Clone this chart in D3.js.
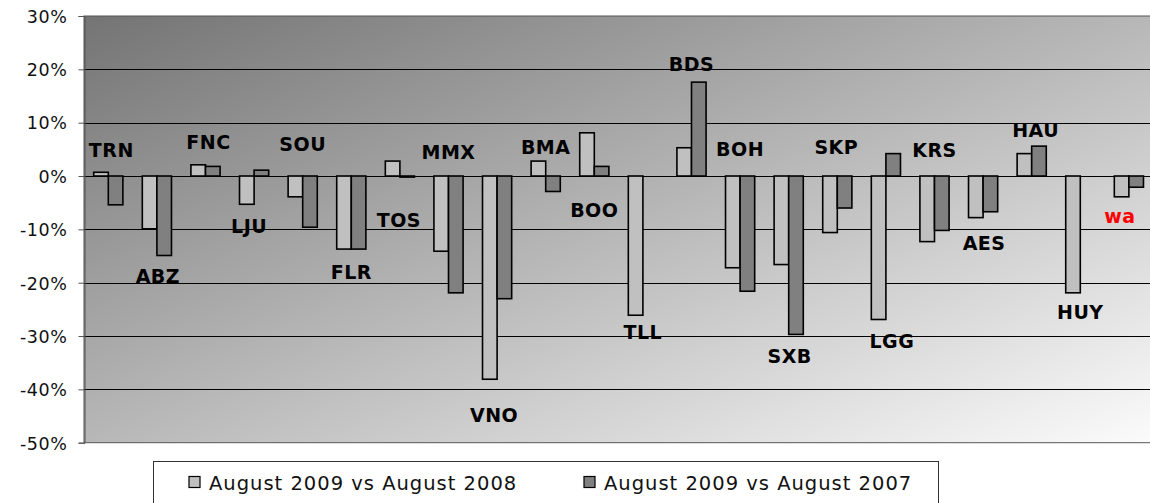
<!DOCTYPE html>
<html>
<head>
<meta charset="utf-8">
<script src="https://cdn.jsdelivr.net/npm/d3@7"></script>
<style>
  body { margin: 0; background: #fff; }
  text { font-family: "DejaVu Sans", Verdana, sans-serif; }
</style>
</head>
<body>
<div id="chart"></div>
<script>
// data (percent)
let categories = ["TRN", "ABZ", "FNC", "LJU", "SOU", "FLR", "TOS", "MMX", "VNO", "BMA", "BOO",
                  "TLL", "BDS", "BOH", "SXB", "SKP", "LGG", "KRS", "AES", "HAU", "HUY", "wa"];
let vs2008 = [0.7, -9.9, 2.1, -5.3, -3.9, -13.7, 2.8, -14.1, -38.1, 2.8, 8.1,
              -26.1, 5.3, -17.2, -16.6, -10.6, -26.9, -12.3, -7.8, 4.2, -21.9, -3.9];
let vs2007 = [-5.4, -14.9, 1.8, 1.1, -9.6, -13.7, -0.2, -21.9, -23.0, -2.9, 1.8,
              null, 17.6, -21.6, -29.7, -6.0, 4.2, -10.2, -6.7, 5.6, null, -2.1];
let seriesNames = ["August 2009 vs August 2008", "August 2009 vs August 2007"];
let yTicks = [30, 20, 10, 0, -10, -20, -30, -40, -50];

// where each category label sits: [x offset in band, value at text baseline]
let labelPos = [
  [3, 3.5], [1, -20.1], [3, 5.1], [-5, -10.6], [0, 4.6], [0, -19.3], [-1, -9.6],
  [0, 3.2], [-3, -46.2], [0, 4.1], [0, -7.7], [0, -30.5], [0, 19.7], [0, 3.8],
  [1, -35], [-1, 4.1], [6, -32.3], [0, 3.5], [1, -13.9], [4, 7.3], [0, -26.9], [-9, -8.8]
];

let W = 1150, H = 503;
let svg = d3.select("#chart").append("svg")
      .attr("width", W)
      .attr("height", H);

let plotLeft = 84, plotTop = 16, plotBottom = 442.7, bandW = 48.6;
let plotRight = plotLeft + categories.length * bandW;

let x = d3.scaleBand()
    .domain(categories)
    .range([plotLeft, plotRight])
    .paddingInner(0.4)
    .paddingOuter(0.2);
let xs = d3.scaleBand()
    .domain([0, 1])
    .range([0, x.bandwidth()]);
let y = d3.scaleLinear()
    .domain([-50, 30])
    .range([plotBottom, plotTop]);

let defs = svg.append("defs");
let grad = defs.append("linearGradient")
    .attr("id", "bg")
    .attr("x1", "0").attr("y1", "0")
    .attr("x2", "1").attr("y2", "1");
grad.append("stop").attr("offset", "0%").attr("stop-color", "#747474");
grad.append("stop").attr("offset", "100%").attr("stop-color", "#fbfbfb");

svg.append("rect")
    .attr("x", plotLeft).attr("y", plotTop)
    .attr("width", plotRight - plotLeft).attr("height", plotBottom - plotTop)
    .attr("fill", "url(#bg)")
    .attr("stroke", "#555")
    .attr("stroke-width", 1);

// gridlines
svg.append("g").selectAll("line")
    .data(yTicks.slice(1, -1))
    .enter().append("line")
    .attr("x1", plotLeft).attr("x2", plotRight)
    .attr("y1", d => Math.round(y(d)) + 0.5)
    .attr("y2", d => Math.round(y(d)) + 0.5)
    .attr("stroke", "#000")
    .attr("stroke-width", 1);

// y axis
let yAxis = svg.append("g")
    .attr("transform", "translate(" + (plotLeft + 0.5) + ",0)")
    .call(d3.axisLeft(y).tickValues(yTicks).tickSize(6).tickFormat(d => d + "%"));
yAxis.select(".domain").attr("stroke", "#555");
yAxis.selectAll(".tick line").attr("stroke", "#555");
yAxis.selectAll(".tick text")
    .attr("x", -17)
    .attr("dy", "0.36em")
    .attr("font-size", "17.5px")
    .attr("letter-spacing", "0.6px")
    .attr("font-family", "DejaVu Sans, Verdana, sans-serif")
    .attr("fill", "#111");

// bars
let colors = ["#c0c0c0", "#808080"];
let series = [vs2008, vs2007];
series.forEach(function (vals, s) {
  svg.append("g").selectAll("rect")
    .data(categories.map((c, i) => ({c: c, v: vals[i]})).filter(d => d.v !== null))
    .enter().append("rect")
    .attr("x", d => x(d.c) + xs(s))
    .attr("width", xs.bandwidth())
    .attr("y", d => y(Math.max(0, d.v)))
    .attr("height", d => Math.abs(y(d.v) - y(0)))
    .attr("fill", colors[s])
    .attr("stroke", "#000")
    .attr("stroke-width", 1.6);
});

// category labels
svg.append("g").selectAll("text")
    .data(categories)
    .enter().append("text")
    .attr("x", (d, i) => x(d) + x.bandwidth() / 2 + labelPos[i][0])
    .attr("y", (d, i) => y(labelPos[i][1]))
    .attr("text-anchor", "middle")
    .attr("font-size", "19px")
    .attr("letter-spacing", "0.5px")
    .attr("font-weight", "bold")
    .attr("fill", d => d === "wa" ? "#ff0000" : "#000")
    .text(d => d);

// legend
let legend = svg.append("g");
legend.append("rect")
    .attr("x", 153.5).attr("y", 461.5)
    .attr("width", 785).attr("height", 50)
    .attr("fill", "#fff")
    .attr("stroke", "#333");
let legendX = [189, 584];
seriesNames.forEach(function (name, s) {
  legend.append("rect")
    .attr("x", legendX[s]).attr("y", 476.5)
    .attr("width", 11).attr("height", 11)
    .attr("fill", colors[s])
    .attr("stroke", "#000")
    .attr("stroke-width", 1.2);
  legend.append("text")
    .attr("x", legendX[s] + 20).attr("y", 490)
    .attr("font-size", "19.5px")
    .attr("letter-spacing", "1px")
    .attr("fill", "#111")
    .text(name);
});
</script>
</body>
</html>
